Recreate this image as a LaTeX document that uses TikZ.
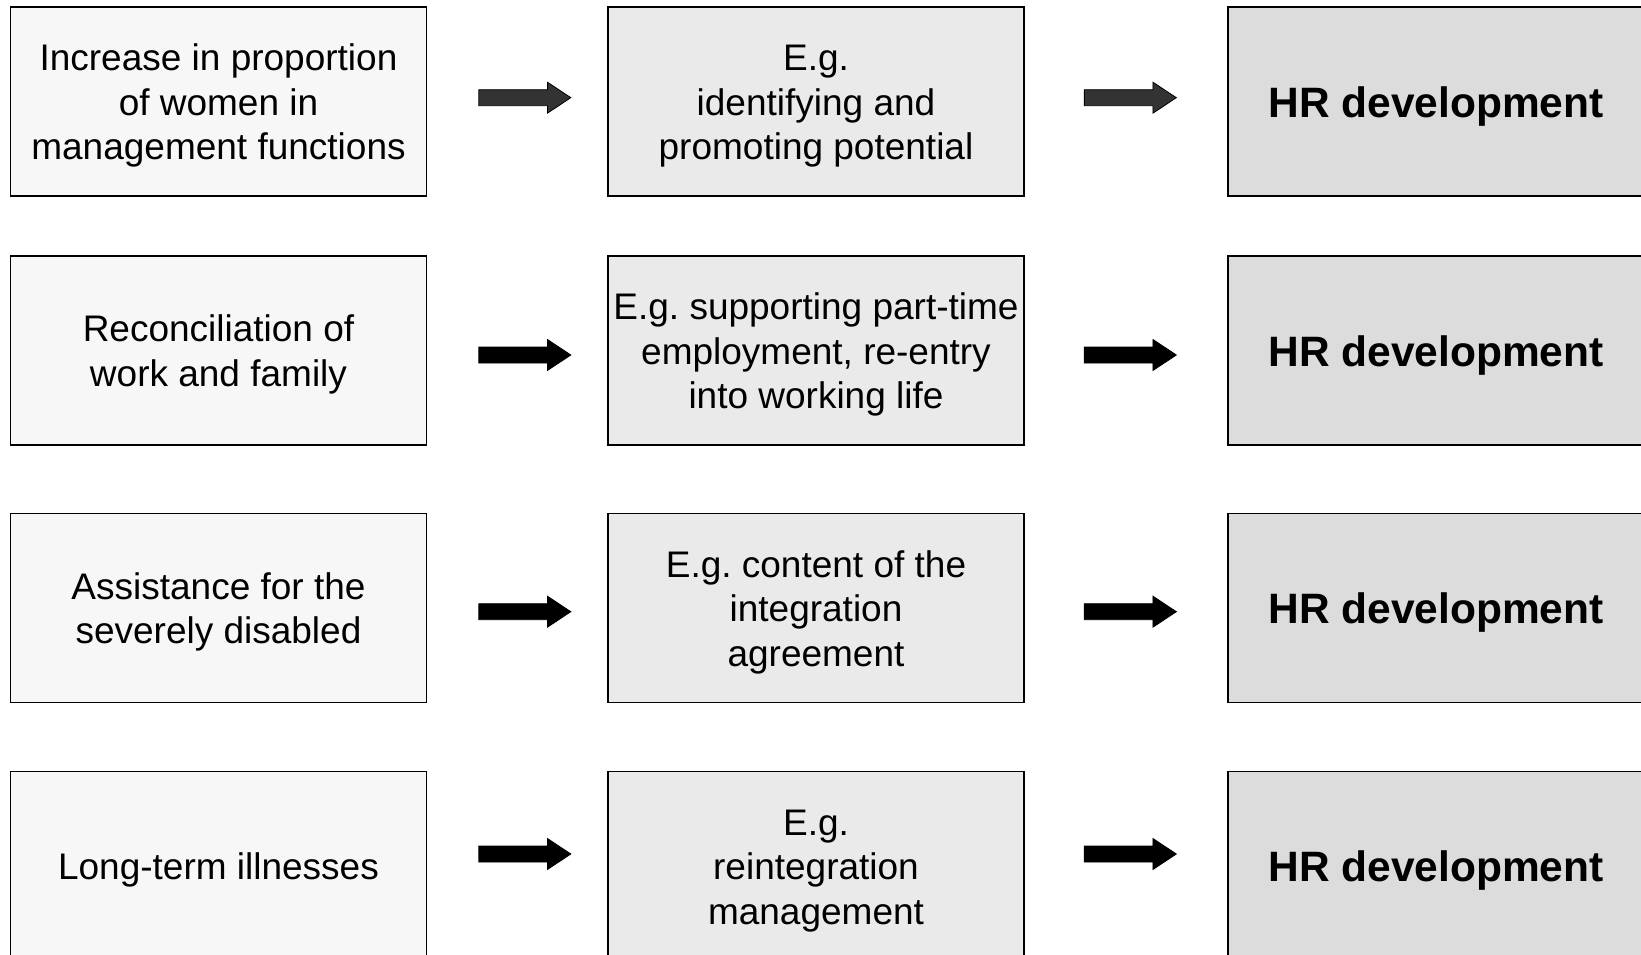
\documentclass[tikz,border=0pt]{standalone}
\usepackage{fontspec}
\setmainfont{Liberation Sans}
\usepackage{xcolor}
\usetikzlibrary{shapes.arrows, positioning}
\frenchspacing

\definecolor{topicgray}{HTML}{F7F7F7}
\definecolor{measgray}{HTML}{EAEAEA}
\definecolor{hrgray}{HTML}{DCDCDC}
\definecolor{darkarrow}{HTML}{333333}

% struts so that every line box is as tall as a full text line
\newcommand{\topst}{\rule{0pt}{0.95em}}
\newcommand{\botst}{\rule[-0.212em]{0pt}{0pt}}

\tikzset{
  box/.style={draw, line width=1.6pt, minimum width=416pt, minimum height=189pt,
    inner sep=0pt, align=center, font=\fontsize{37}{44.5}\selectfont},
  topic/.style={box, fill=topicgray},
  meas/.style={box, fill=measgray},
  hrbox/.style={box, fill=hrgray, font=\fontsize{42.5}{50}\selectfont\bfseries},
  blockarrow/.style={single arrow, draw, line width=0.8pt, fill=black,
    inner xsep=0pt, inner ysep=7.6pt, minimum height=92pt,
    single arrow head extend=7.5pt, single arrow tip angle=67},
}

\begin{document}
\begin{tikzpicture}[x=1pt, y=-1pt]
    \useasboundingbox (0,0) rectangle (1641,955);

    \def\colA{218.5}
    \def\colB{816}
    \def\colC{1436}
    \def\arrA{518.8}
    \def\arrB{1124.3}

    % Topics
    \node[topic] (t1) at (\colA,101.5) {\topst Increase in proportion\\of women in\\management functions\botst};
    \node[topic] (t2) at (\colA,350.5) {\topst Reconciliation of\\work and family\botst};
    \node[topic] (t3) at (\colA,608) {\topst Assistance for the\\severely disabled\botst};
    \node[topic] (t4) at (\colA,866) {\topst Long-term illnesses\botst};

    % Measures
    \node[meas] (m1) at (\colB,101.5) {\topst E.g.\\identifying and\\promoting potential\botst};
    \node[meas] (m2) at (\colB,350.5) {\topst E.g. supporting part-time\\employment, re-entry\\into working life\botst};
    \node[meas] (m3) at (\colB,608) {\topst E.g. content of the\\integration\\agreement\botst};
    \node[meas] (m4) at (\colB,866) {\topst E.g.\\reintegration\\management\botst};

    % HR development
    \node[hrbox] (h1) at (\colC,101.5) {\topst HR development\botst};
    \node[hrbox] (h2) at (\colC,350.5) {\topst HR development\botst};
    \node[hrbox] (h3) at (\colC,608) {\topst HR development\botst};
    \node[hrbox] (h4) at (\colC,866) {\topst HR development\botst};

    % Arrows
    \node[blockarrow, fill=darkarrow] (a1) at (\arrA,97.7) {};
    \node[blockarrow, fill=darkarrow] (b1) at (\arrB,97.7) {};
    \node[blockarrow] (a2) at (\arrA,355) {};
    \node[blockarrow] (b2) at (\arrB,355) {};
    \node[blockarrow] (a3) at (\arrA,611.7) {};
    \node[blockarrow] (b3) at (\arrB,611.7) {};
    \node[blockarrow] (a4) at (\arrA,854) {};
    \node[blockarrow] (b4) at (\arrB,854) {};
\end{tikzpicture}
\end{document}
